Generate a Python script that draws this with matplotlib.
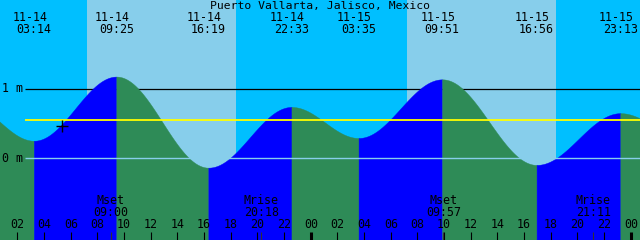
import numpy as np
import matplotlib.pyplot as plt
import matplotlib.transforms as mtransforms

title = "Puerto Vallarta, Jalisco, Mexico"

# tide extremes (first and last lie just off the chart, estimated)
tide_dates = ["11-13", "11-14", "11-14", "11-14", "11-14", "11-15", "11-15", "11-15", "11-15", "11-16"]
tide_clock = ["22:00", "03:14", "09:25", "16:19", "22:33", "03:35", "09:51", "16:56", "23:13", "04:00"]
tide_height = [0.82, 0.25, 1.18, -0.14, 0.74, 0.29, 1.14, -0.10, 0.65, 0.30]

sun_rise = [("11-14", "07:13"), ("11-15", "07:13")]
sun_set = [("11-14", "18:23"), ("11-15", "18:24")]

moon_names = ["Mset", "Mrise", "Mset", "Mrise"]
moon_dates = ["11-14", "11-14", "11-15", "11-15"]
moon_clock = ["09:00", "20:18", "09:57", "21:11"]

mean_level = 0.55
now_date, now_clock, now_height = "11-14", "05:20", 0.46


def hours(date, clock):
    day = int(date[3:]) - 14
    hh, mm = clock.split(":")
    return 24 * day + int(hh) + int(mm) / 60


NIGHT = "#00BFFF"
DAY = "#87CEEB"
RISING = "#0000FF"
FALLING = "#2E8B57"

x0 = 0.69
x1 = x0 + 48
ytop = 158 / 69
ybot = -82 / 69

fig = plt.figure(figsize=(6.4, 2.4), dpi=100)
ax = fig.add_axes([0, 0, 1, 1])
ax.set_xlim(x0, x1)
ax.set_ylim(ybot, ytop)
ax.axis("off")
fig.patch.set_facecolor(NIGHT)
ax.add_patch(plt.Rectangle((0, 0), 1, 1, transform=ax.transAxes, color=NIGHT, zorder=0))
blend = mtransforms.blended_transform_factory(ax.transData, ax.transAxes)

# daylight
for r, s in zip(sun_rise, sun_set):
    ax.axvspan(hours(*r), hours(*s), color=DAY, lw=0, zorder=1)

# tide curve, cosine shape between extremes
tt = [hours(d, c) for d, c in zip(tide_dates, tide_clock)]
line_start = x0 + 25 / 13.333
ax.hlines(1, line_start, x1, color="black", lw=0.9, zorder=2)
for i in range(len(tt) - 1):
    t = np.linspace(tt[i], tt[i + 1], 200)
    f = (t - tt[i]) / (tt[i + 1] - tt[i])
    h = tide_height[i] + (tide_height[i + 1] - tide_height[i]) * (1 - np.cos(np.pi * f)) / 2
    col = RISING if tide_height[i + 1] > tide_height[i] else FALLING
    ax.fill_between(t, ybot, h, color=col, lw=0.3, ec=col, zorder=3)

ax.hlines(0, line_start, x1, color=DAY, lw=1.0, zorder=4)
ax.hlines(mean_level, line_start, x1, color="#FFFF00", lw=1.3, zorder=4)
ax.plot(hours(now_date, now_clock), now_height, marker="+", color="black",
        markersize=8, mew=1.0, zorder=5)

fnt = dict(family="DejaVu Sans Mono", fontsize=8.4, color="black")

ax.text(0.5, 1 - 5.5 / 240, title, transform=ax.transAxes, ha="center", va="center",
        family="DejaVu Sans Mono", fontsize=8.2, color="black")
for d, c, t in zip(tide_dates[1:-1], tide_clock[1:-1], tt[1:-1]):
    ax.text(t - 0.3, 1 - 17.5 / 240, d, transform=blend, ha="center", va="center", **fnt)
    ax.text(t, 1 - 29.5 / 240, c, transform=blend, ha="center", va="center", **fnt)

ax.text(2 / 640, 1 - 89 / 240, "1 m", transform=ax.transAxes, ha="left", va="center", **fnt)
ax.text(2 / 640, 1 - 158 / 240, "0 m", transform=ax.transAxes, ha="left", va="center", **fnt)

# hour ticks
for hr in range(2, 49, 2):
    lw = 2.2 if hr % 24 == 0 else 0.8
    ax.vlines(hr, 0, 8 / 240, transform=blend, color="black", lw=lw, zorder=6)
    ax.text(hr, 1 - 225 / 240, "%02d" % (hr % 24), transform=blend,
            ha="center", va="center", zorder=6, **fnt)

# moon
for n, d, c in zip(moon_names, moon_dates, moon_clock):
    t = hours(d, c)
    ax.vlines(t, 0, 8 / 240, transform=blend, color="#333333", lw=0.8, zorder=6)
    ax.text(t, 1 - 201 / 240, n, transform=blend, ha="center", va="center", zorder=6, **fnt)
    ax.text(t, 1 - 213 / 240, c, transform=blend, ha="center", va="center", zorder=6, **fnt)

fig.savefig("out.png", dpi=100, facecolor=NIGHT)
